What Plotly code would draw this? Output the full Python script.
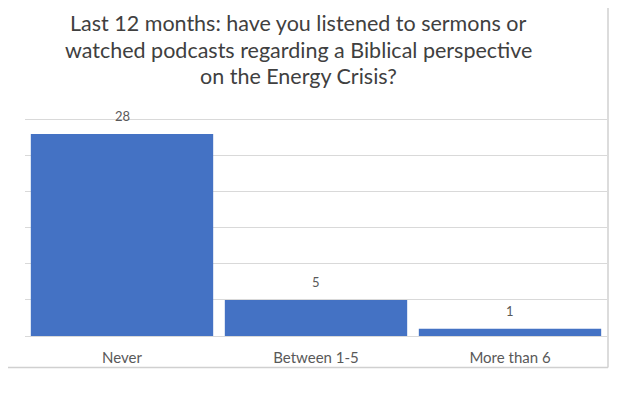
import plotly.graph_objects as go

categories = ["Never", "Between 1-5", "More than 6"]
counts = [28, 5, 1]
title_lines = ["Last 12 months: have you listened to sermons or",
               "watched podcasts regarding a Biblical perspective",
               "on the Energy Crisis?"]

# page body has an 8px margin; figure sized to fit the window
W, H = 622, 385
ml, mr, mt, mb = 17, 23, 107.9, 56.5
pw = W - ml - mr
ph = H - mt - mb

fig = go.Figure()
fig.add_trace(go.Bar(
    x=categories, y=counts,
    marker=dict(color="#4472C4", line=dict(width=0)),
    hoverinfo="skip",
))

for c, v in zip(categories, counts):
    fig.add_annotation(x=c, y=v, text=str(v), showarrow=False,
                       yshift=18, font=dict(family="Lato", size=13, color="#595959"))

title_y_px = [15, 42, 68]
for line, ypx in zip(title_lines, title_y_px):
    fig.add_annotation(text=line, xref="paper", yref="paper",
                       x=(290 - ml) / pw, y=(H - mb - ypx) / ph,
                       xanchor="center", yanchor="middle", showarrow=False,
                       font=dict(family="Lato", size=21.5, color="#404040"))

fig.update_layout(
    width=W, height=H,
    margin=dict(l=ml, r=mr, t=mt, b=mb, autoexpand=False),
    paper_bgcolor="white", plot_bgcolor="white",
    bargap=0.06,
    showlegend=False,
    xaxis=dict(showgrid=False, showline=False, ticks="outside", ticklen=8,
               tickcolor="rgba(0,0,0,0)",
               tickfont=dict(family="Lato", size=15, color="#595959")),
    yaxis=dict(range=[0, 30.5], tickvals=[5, 10, 15, 20, 25, 30],
               showticklabels=False, showgrid=True,
               gridcolor="#D9D9D9", gridwidth=1, zeroline=True,
               zerolinecolor="#D9D9D9", zerolinewidth=1, showline=False),
)

xr = (600 - ml) / pw
yb = -(360 - (H - mb)) / ph
fig.add_shape(type="line", xref="paper", yref="paper", x0=xr, x1=xr, y0=yb, y1=(H - mb) / ph + 0.05,
              line=dict(color="#D0D0D0", width=1.5))
fig.add_shape(type="line", xref="paper", yref="paper", x0=-0.1, x1=xr, y0=yb, y1=yb,
              line=dict(color="#D0D0D0", width=1.5))

fig.write_html("out.html")
